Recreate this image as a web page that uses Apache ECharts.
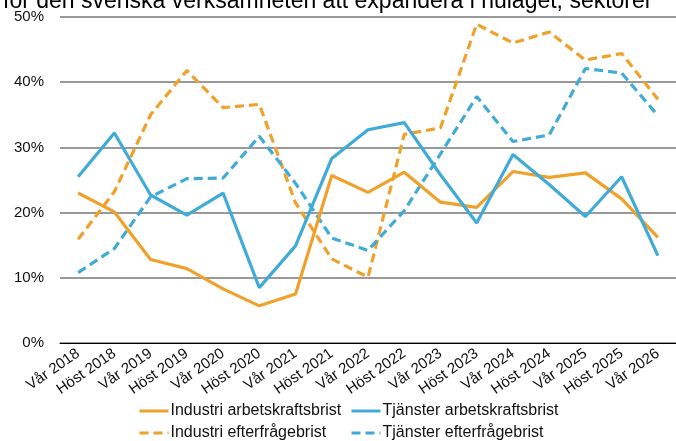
<!DOCTYPE html>
<html>
<head>
<meta charset="utf-8">
<script src="https://cdn.jsdelivr.net/npm/echarts@6/dist/echarts.min.js"></script>
<style>
  html, body { margin: 0; padding: 0; background: #fff; }
  #main { width: 676px; height: 441px; }
</style>
</head>
<body>
<div id="main"></div>
<script>
var categories = ['Vår 2018', 'Höst 2018', 'Vår 2019', 'Höst 2019', 'Vår 2020', 'Höst 2020',
    'Vår 2021', 'Höst 2021', 'Vår 2022', 'Höst 2022', 'Vår 2023', 'Höst 2023',
    'Vår 2024', 'Höst 2024', 'Vår 2025', 'Höst 2025', 'Vår 2026'];
var industriArbetskraft = [23.0, 20.1, 12.8, 11.4, 8.3, 5.7, 7.5, 25.7, 23.1, 26.2, 21.6, 20.8, 26.3, 25.4, 26.1, 22.1, 16.2];
var tjansterArbetskraft = [25.5, 32.2, 22.7, 19.6, 23.0, 8.5, 14.9, 28.3, 32.7, 33.8, 25.8, 18.4, 28.9, 24.3, 19.4, 25.5, 13.4];
var industriEfterfragan = [15.9, 23.2, 35.0, 41.8, 36.1, 36.6, 21.5, 12.9, 10.1, 32.0, 33.0, 48.9, 46.0, 47.7, 43.4, 44.4, 37.4];
var tjansterEfterfragan = [10.8, 14.5, 22.4, 25.2, 25.3, 31.7, 24.5, 16.1, 14.2, 20.3, 29.0, 37.8, 30.9, 31.9, 42.1, 41.4, 34.9];
var yTicks = [0, 10, 20, 30, 40, 50];

var orange = '#F0A12C';
var blue = '#40ABD7';
var dash = [9, 5];
var font = 'Liberation Sans, Arial, sans-serif';

var myChart = echarts.init(document.getElementById('main'));

function legendAt(name, left, top, color, dashed) {
    return {
        data: [name],
        left: left,
        top: top,
        itemWidth: 29,
        itemHeight: 12,
        itemGap: 0,
        padding: 0,
        itemStyle: { opacity: 0 },
        lineStyle: { color: color, width: 3, type: dashed ? dash : 'solid' },
        textStyle: { fontFamily: font, fontSize: 16, color: '#111', padding: [0, 0, 0, -3] }
    };
}

function lineSeries(name, data, color, dashed) {
    return {
        name: name,
        type: 'line',
        data: data,
        symbol: 'none',
        showSymbol: false,
        lineStyle: { color: color, width: 3.2, type: dashed ? dash : 'solid' },
        itemStyle: { color: color },
        z: dashed ? 2 : 3
    };
}

var option = {
    animation: false,
    title: {
        text: 'för den svenska verksamheten att expandera i nuläget, sektorer',
        left: -2,
        top: -15,
        textStyle: { fontFamily: font, fontSize: 23, fontWeight: 'normal', color: '#000' }
    },
    legend: [
        legendAt('Industri arbetskraftsbrist', 138, 403, orange, false),
        legendAt('Tjänster arbetskraftsbrist', 350, 403, blue, false),
        legendAt('Industri efterfrågebrist', 138, 425, orange, true),
        legendAt('Tjänster efterfrågebrist', 350, 425, blue, true)
    ],
    grid: { left: 60, right: -7, top: 17, bottom: 98 },
    xAxis: {
        type: 'category',
        data: categories,
        boundaryGap: true,
        axisLine: { lineStyle: { color: '#000', width: 1 } },
        axisTick: { inside: true, length: 4, lineStyle: { color: '#000' } },
        axisLabel: { rotate: 35, fontFamily: font, fontSize: 15, color: '#111', margin: 9, interval: 0 }
    },
    yAxis: {
        type: 'value',
        min: yTicks[0],
        max: yTicks[yTicks.length - 1],
        interval: 10,
        axisLine: { show: false },
        axisTick: { show: false },
        axisLabel: { formatter: '{value}%', fontFamily: font, fontSize: 15, color: '#111', margin: 16 },
        splitLine: { lineStyle: { color: '#777', width: 1.5 } }
    },
    series: [
        lineSeries('Industri arbetskraftsbrist', industriArbetskraft, orange, false),
        lineSeries('Tjänster arbetskraftsbrist', tjansterArbetskraft, blue, false),
        lineSeries('Industri efterfrågebrist', industriEfterfragan, orange, true),
        lineSeries('Tjänster efterfrågebrist', tjansterEfterfragan, blue, true)
    ]
};

myChart.setOption(option);
</script>
</body>
</html>
